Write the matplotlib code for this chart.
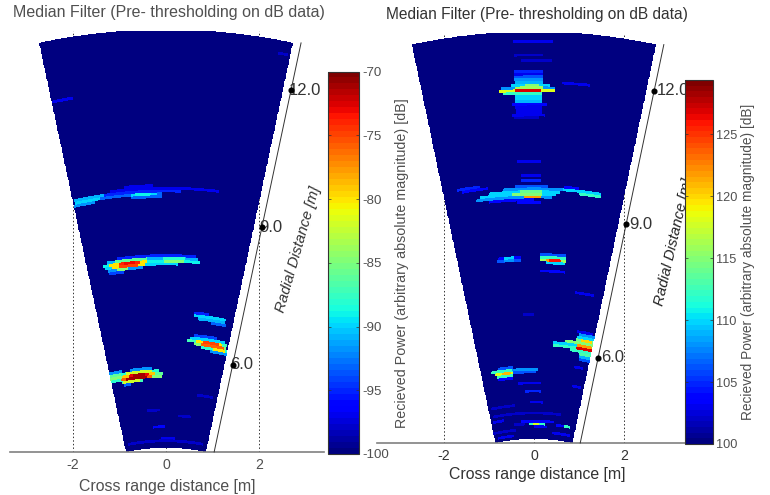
import numpy as np
import matplotlib
matplotlib.use("Agg")
import matplotlib.pyplot as plt

plt.rcParams['font.family'] = ['Liberation Sans', 'DejaVu Sans']
plt.rcParams['axes.unicode_minus'] = False

W, H = 770, 495

# echoes as rows of (radial distance m, cross range from m, cross range to m, power dB)
left_echo_far = [(11.72, -2.42, -2.0, -97), (12.78, 2.4, 2.6, -98)]
left_echo_9 = [(9.72, -0.9, -0.3, -97), (9.66, -1.2, 1.15, -97), (9.60, -1.95, 0.3, -95),
               (9.54, -1.95, -0.1, -93), (9.60, -1.95, -1.3, -91), (9.54, -1.95, -1.4, -90),
               (9.48, -2.0, -1.5, -92), (9.54, -0.75, -0.2, -90), (9.48, -0.75, -0.1, -93),
               (9.54, -0.65, -0.3, -89)]
left_echo_8 = [(8.20, -1.05, 0.65, -95), (8.14, -1.25, 0.7, -91), (8.08, -1.35, 0.75, -89),
               (8.02, -1.3, 0.25, -90), (7.96, -1.25, -0.5, -92), (7.90, -1.2, -0.9, -94),
               (8.14, -1.1, -0.4, -86), (8.08, -1.2, -0.4, -80), (8.02, -1.15, -0.45, -80),
               (7.96, -1.05, -0.8, -85), (8.08, -1.0, -0.55, -74), (8.02, -1.0, -0.6, -75),
               (8.08, -0.05, 0.4, -85), (8.14, -0.05, 0.4, -88), (8.08, -0.9, -0.65, -73)]
left_echo_7 = [(6.97, 0.6, 0.9, -95), (6.91, 0.6, 1.28, -90), (6.85, 0.7, 1.28, -91),
               (6.79, 0.95, 1.28, -93)]
left_echo_6 = [(6.49, 0.6, 1.1, -94), (6.43, 0.5, 1.25, -90), (6.37, 0.45, 1.3, -87),
               (6.31, 0.6, 1.3, -85), (6.25, 0.75, 1.3, -88), (6.19, 0.95, 1.3, -92),
               (6.37, 0.65, 1.2, -80), (6.31, 0.75, 1.25, -76), (6.37, 0.8, 1.15, -75),
               (6.25, 1.0, 1.25, -80)]
left_echo_5 = [(5.81, -0.75, -0.3, -92), (5.75, -1.0, -0.15, -88), (5.69, -0.95, -0.08, -86),
               (5.63, -0.95, -0.1, -85), (5.57, -0.95, -0.5, -87), (5.51, -0.9, -0.75, -93),
               (5.81, -1.2, -0.95, -92), (5.75, -1.2, -0.95, -86), (5.69, -1.2, -0.95, -85),
               (5.63, -1.2, -0.95, -88),
               (5.75, -0.85, -0.3, -82), (5.69, -0.95, -0.25, -79), (5.63, -0.95, -0.3, -76),
               (5.57, -0.9, -0.55, -82), (5.69, -0.8, -0.35, -73), (5.63, -0.85, -0.4, -71),
               (5.69, -0.7, -0.45, -71)]
left_echo_near = [(5.23, 0.66, 1.0, -98), (4.9, -0.4, -0.13, -98), (4.78, 0.26, 0.55, -98),
                  (4.56, -0.28, -0.02, -96), (4.25, -0.8, 0.8, -98), (4.3, -0.1, 0.2, -97)]

right_echo_12 = [(12.8, -0.47, 0.42, 103), (12.5, -0.47, 0.2, 102), (12.39, -0.3, 0.4, 102),
                 (12.14, -0.42, 0.2, 105), (12.08, -0.42, 0.2, 103), (12.02, -0.42, 0.2, 106),
                 (11.96, -0.42, 0.2, 108), (11.90, -0.42, 0.2, 109), (11.84, -0.5, 0.35, 110),
                 (11.84, -0.2, 0.1, 115), (11.78, -0.75, 0.45, 108), (11.78, -0.42, 0.2, 116),
                 (11.72, -0.75, 0.45, 118), (11.72, -0.42, 0.15, 127), (11.66, -0.7, 0.2, 112),
                 (11.60, -0.42, 0.2, 110), (11.54, -0.42, 0.2, 110), (11.48, -0.42, 0.2, 109),
                 (11.42, -0.5, 0.3, 104), (11.36, -0.42, 0.2, 103), (11.30, -0.42, 0.2, 103),
                 (11.24, -0.42, 0.2, 103), (11.18, -0.47, 0.25, 103), (11.12, -0.42, 0.1, 102),
                 (11.94, 0.63, 1.25, 103)]
right_echo_9 = [(10.15, -0.35, 0.17, 103), (9.86, -0.3, 0.17, 103), (9.77, -0.3, 0.17, 105),
                (9.68, -1.7, -1.2, 105), (9.62, -1.6, -1.0, 104), (9.62, -0.4, 0.3, 106),
                (9.56, -0.7, 0.8, 108), (9.56, 0.65, 1.5, 110), (9.50, -1.0, 0.6, 110),
                (9.50, -0.3, 0.2, 114), (9.50, 1.0, 1.5, 112), (9.44, -1.2, 0.5, 110),
                (9.44, -0.5, 0.2, 115), (9.38, -1.3, 0.4, 108), (9.38, -0.2, 0.15, 122),
                (9.32, -1.0, 0.0, 104), (9.62, 0.65, 1.0, 104), (9.25, -0.35, 0.15, 104)]
right_echo_8 = [(8.08, -0.8, -0.3, 104), (8.02, -0.8, -0.3, 106), (8.08, -0.65, -0.45, 110),
                (8.02, -0.65, -0.45, 108), (8.14, 0.13, 0.72, 106), (8.08, 0.13, 0.72, 112),
                (8.02, 0.13, 0.72, 116), (8.02, 0.25, 0.55, 122), (7.96, 0.25, 0.7, 110),
                (8.0, 0.35, 0.6, 126), (7.8, 0.13, 0.7, 104), (7.75, 0.2, 0.6, 104),
                (7.35, 0.9, 1.35, 103), (6.8, -0.25, 0.0, 102)]
right_echo_6 = [(6.5, 0.95, 1.31, 103), (6.44, 1.0, 1.35, 108), (6.38, 0.95, 1.35, 110),
                (6.32, 0.95, 1.35, 114), (6.32, 1.05, 1.3, 120), (6.26, 0.7, 1.35, 115),
                (6.20, 0.42, 1.35, 110), (6.20, 0.95, 1.3, 122), (6.14, 0.42, 1.35, 112),
                (6.14, 0.95, 1.3, 127), (6.08, 0.8, 1.3, 112), (6.02, 1.0, 1.3, 113),
                (5.96, 1.0, 1.3, 109), (5.90, 1.0, 1.3, 106)]
right_echo_5 = [(5.68, -0.8, -0.47, 106), (5.62, -0.95, -0.47, 112), (5.56, -0.85, -0.45, 118),
                (5.50, -0.8, -0.47, 112), (5.44, -0.8, -0.47, 104), (5.62, -0.47, 0.1, 108),
                (5.56, -0.45, 0.05, 106), (5.56, -0.7, -0.5, 121), (5.75, 0.9, 1.1, 103),
                (5.3, -0.35, 0.15, 103), (5.3, 0.85, 1.05, 103), (5.15, -0.2, 0.15, 105)]
right_echo_near = [(4.9, -0.1, 0.2, 103), (4.85, -0.95, -0.43, 102), (4.65, -0.9, 0.6, 102),
                   (4.55, -0.9, -0.65, 103), (4.48, -0.3, 0.45, 104), (4.42, -0.1, 0.25, 112),
                   (4.42, -0.02, 0.12, 118), (4.42, -0.45, -0.2, 102), (4.42, 0.5, 0.8, 104),
                   (4.42, 0.68, 0.8, 112), (4.36, 0.0, 0.3, 103), (4.3, -0.9, -0.4, 102),
                   (4.2, -0.8, -0.45, 103), (4.24, 0.4, 0.8, 103)]

left_echoes = left_echo_far + left_echo_9 + left_echo_8 + left_echo_7 + left_echo_6 + left_echo_5 + left_echo_near
right_echoes = right_echo_12 + right_echo_9 + right_echo_8 + right_echo_6 + right_echo_5 + right_echo_near

left_limits = (-100, -70)
right_limits = (100, 129.4)
left_cticks = [-100, -95, -90, -85, -80, -75, -70]
right_cticks = [100, 105, 110, 115, 120, 125]
radial_ticks = [6.0, 9.0, 12.0]
cross_ticks = [-2, 0, 2]

half_angle = 12.0
r_min, r_max = 4.09, 13.03
line_offset = 0.18
jet64 = plt.get_cmap('jet', 64)

fig = plt.figure(figsize=(W / 100, H / 100), dpi=100)


def px_axes(x0, top, x1, bottom, **kw):
    return fig.add_axes([x0 / W, 1 - bottom / H, (x1 - x0) / W, (bottom - top) / H], **kw)


def draw_panel(ax, echoes, limits, xlim, color, label_shift):
    r_edges = np.arange(r_min, r_max + 0.06, 0.06)
    az_edges = np.linspace(-half_angle, half_angle, 129)
    r_mid = (r_edges[:-1] + r_edges[1:]) / 2
    az_mid = (az_edges[:-1] + az_edges[1:]) / 2
    power = np.full((len(r_mid), len(az_mid)), float(limits[0]))
    for r, x0, x1, db in echoes:
        i = np.searchsorted(r_edges, r) - 1
        a0, a1 = np.degrees(np.arcsin(x0 / r)), np.degrees(np.arcsin(x1 / r))
        keep = (az_mid >= a0) & (az_mid <= a1)
        power[i, keep] = np.maximum(power[i, keep], db)

    rr, aa = np.meshgrid(r_edges, np.radians(az_edges), indexing='ij')
    mesh = ax.pcolormesh(rr * np.sin(aa), rr * np.cos(aa), power, cmap=jet64,
                         vmin=limits[0], vmax=limits[1], zorder=2)

    ax.set_facecolor('none')
    ax.set_xlim(*xlim)
    ax.set_ylim(4, 13)
    ax.set_yticks([])
    ax.set_xticks(cross_ticks)
    ax.grid(axis='x', color='#333333', ls=(0, (1.5, 2.2)), lw=0.7)
    ax.set_axisbelow(True)
    for s in ['top', 'left', 'right']:
        ax.spines[s].set_visible(False)
    ax.spines['bottom'].set_color('#808080')
    ax.spines['bottom'].set_linewidth(1.2)
    ax.tick_params(axis='x', length=0, pad=4, labelsize=10.2, labelcolor=color)
    ax.set_xlabel('Cross range distance [m]', fontsize=11.4, color=color, labelpad=5.5)

    # slanted radial axis next to the wedge
    s, c = np.sin(np.radians(half_angle)), np.cos(np.radians(half_angle))
    ax.plot([line_offset + r_min * s, line_offset + r_max * s], [r_min * c, r_max * c],
            color='#333333', lw=0.7, clip_on=False, zorder=3)
    for r in radial_ticks:
        ax.plot(line_offset + r * s, r * c, 'o', color='black', ms=3.4, clip_on=False, zorder=4)
        ax.text(line_offset + r * s + label_shift, r * c, '%.1f' % r, fontsize=12, color='#333333',
                va='center', ha='left', clip_on=False, zorder=3)
    return mesh


def draw_colorbar(mesh, cax, ticks, size, color):
    cb = fig.colorbar(mesh, cax=cax, ticks=ticks)
    cb.outline.set_edgecolor('#333333')
    cb.outline.set_linewidth(0.8)
    cax.tick_params(direction='in', left=True, right=True, length=2.5, width=0.5, pad=2.5,
                    labelsize=size, labelcolor=color, color='#333333')
    cax.set_zorder(5)
    cax.set_facecolor('white')


title = 'Median Filter (Pre- thresholding on dB data)'
power_label = 'Recieved Power (arbitrary absolute magnitude) [dB]'
radial_label = 'Radial Distance [m]'
left_color = '#505050'
right_color = '#333333'

ax1 = px_axes(10, 31, 324, 452)
mesh1 = draw_panel(ax1, left_echoes, left_limits, (-3.337, 3.38), left_color, -0.05)
cax1 = px_axes(328, 71.5, 359, 454)
draw_colorbar(mesh1, cax1, left_cticks, 9.6, left_color)

ax2 = px_axes(377, 33, 685, 443)
mesh2 = draw_panel(ax2, right_echoes, right_limits, (-3.49, 3.36), right_color, 0.06)
ax2.xaxis.set_label_coords(0.519, -0.058)
cax2 = px_axes(685, 80, 713, 444)
draw_colorbar(mesh2, cax2, right_cticks, 9.2, '#505050')

fig.text(13 / W, 1 - 12 / H, title, fontsize=11.5, color=left_color, va='center')
fig.text(386 / W, 1 - 15 / H, title, fontsize=11.2, color=right_color, va='center')
fig.text(402 / W, 1 - 263 / H, power_label, rotation=90, fontsize=10.25, color=left_color, ha='center', va='center')
fig.text(748 / W, 1 - 262 / H, power_label, rotation=90, fontsize=9.9, color=left_color, ha='center', va='center')
fig.text(298 / W, 1 - 249 / H, radial_label, rotation=74, fontsize=10.8, style='italic',
         color='#333333', ha='center', va='center', zorder=1)
fig.text(674 / W, 1 - 242 / H, radial_label, rotation=77, fontsize=10.8, style='italic',
         color='#222222', ha='center', va='center', zorder=1)

fig.savefig('out.png', dpi=100)
